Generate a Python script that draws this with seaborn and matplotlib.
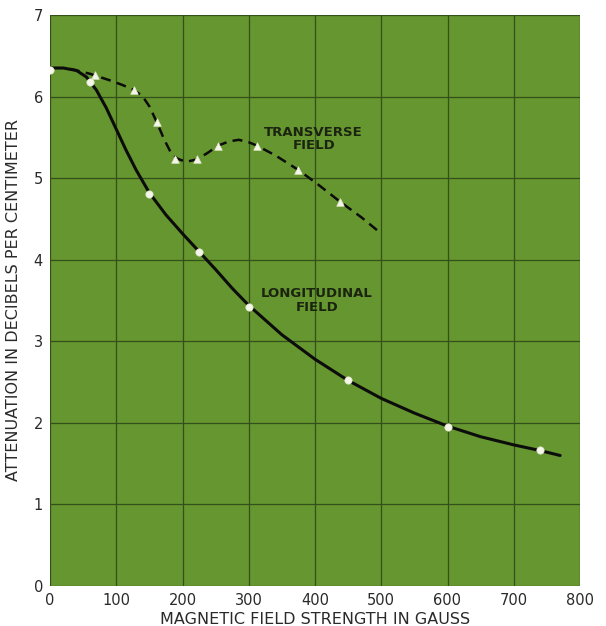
import matplotlib
matplotlib.use("Agg")
import matplotlib.pyplot as plt
import seaborn as sns

# Marker points
long_x = [0, 60, 150, 225, 300, 450, 600, 740]
long_y = [6.32, 6.18, 4.80, 4.10, 3.42, 2.52, 1.95, 1.67]
trans_x = [68, 127, 161, 189, 222, 254, 312, 375, 438]
trans_y = [6.26, 6.08, 5.69, 5.23, 5.23, 5.40, 5.40, 5.10, 4.71]

# Traced curves
long_curve_x = [0, 20, 40, 55, 70, 85, 100, 115, 130, 150, 175, 200, 225, 250, 275,
                300, 350, 400, 450, 500, 550, 600, 650, 700, 740, 770]
long_curve_y = [6.35, 6.35, 6.32, 6.24, 6.08, 5.86, 5.60, 5.34, 5.10, 4.82, 4.55, 4.32,
                4.10, 3.88, 3.65, 3.44, 3.08, 2.78, 2.52, 2.30, 2.12, 1.96, 1.83, 1.73,
                1.66, 1.60]
trans_curve_x = [30, 45, 60, 75, 90, 110, 127, 140, 150, 161, 172, 182, 192, 205, 222,
                 238, 254, 270, 285, 300, 312, 340, 375, 405, 438, 470, 500]
trans_curve_y = [6.34, 6.31, 6.28, 6.24, 6.20, 6.14, 6.08, 6.00, 5.88, 5.69, 5.48, 5.32,
                 5.24, 5.20, 5.23, 5.31, 5.40, 5.45, 5.47, 5.44, 5.40, 5.28, 5.10, 4.92,
                 4.71, 4.52, 4.32]

xticks = [0, 100, 200, 300, 400, 500, 600, 700, 800]
yticks = [0, 1, 2, 3, 4, 5, 6, 7]

GREEN = "#66962f"
GRID = "#34501a"

sns.set_style("whitegrid", {"axes.facecolor": GREEN, "grid.color": GRID,
                            "axes.edgecolor": GREEN})
plt.rcParams["font.family"] = ["DejaVu Sans"]

fig = plt.figure(figsize=(6.06, 6.26), dpi=100)
ax = fig.add_axes([50/606, 1-586/626, 530/606, 571/626])

sns.lineplot(x=long_curve_x, y=long_curve_y, ax=ax, color="#0c0c0c", lw=2.2,
             sort=False, estimator=None)
sns.lineplot(x=trans_curve_x, y=trans_curve_y, ax=ax, color="#0c0c0c", lw=1.8,
             sort=False, estimator=None)
ax.lines[-1].set_linestyle((0, (4, 2.5)))

sns.scatterplot(x=long_x, y=long_y, ax=ax, marker="o", s=28, color="#f4f6ea",
                edgecolor="#dfe5c8", linewidth=0.5, zorder=5)
sns.scatterplot(x=trans_x, y=trans_y, ax=ax, marker="^", s=30, color="#f4f6ea",
                edgecolor="#dfe5c8", linewidth=0.5, zorder=5)

ax.set_xlim(0, 800)
ax.set_ylim(0, 7)
ax.set_xticks(xticks)
ax.set_yticks(yticks)
ax.grid(True, color=GRID, lw=0.9)
for s in ax.spines.values():
    s.set_visible(False)
ax.tick_params(axis="both", length=0, labelsize=10.5, colors="#2a2a2a", pad=5)

ax.set_xlabel("MAGNETIC FIELD STRENGTH IN GAUSS", fontsize=11.5, color="#2a2a2a",
              labelpad=3)
ax.set_ylabel("ATTENUATION IN DECIBELS PER CENTIMETER", fontsize=11.5, color="#2a2a2a",
              labelpad=9)

ax.text(398, 5.48, "TRANSVERSE\nFIELD", ha="center", va="center", fontsize=9.5,
        fontweight="bold", color="#1a2410", linespacing=1.05)
ax.text(403, 3.50, "LONGITUDINAL\nFIELD", ha="center", va="center", fontsize=9.5,
        fontweight="bold", color="#1a2410", linespacing=1.05)

fig.savefig("out.png", dpi=100)
